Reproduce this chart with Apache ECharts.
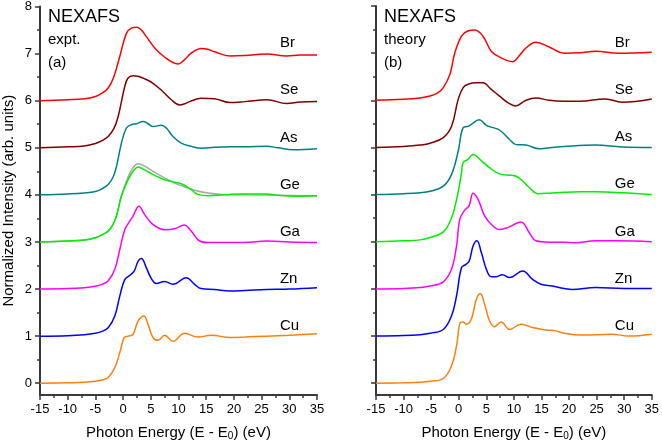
<!DOCTYPE html>
<html>
<head>
<meta charset="utf-8">
<script src="https://cdn.jsdelivr.net/npm/echarts@6/dist/echarts.min.js"></script>
<style>html,body{margin:0;padding:0;background:#fff}#c{width:662px;height:446px}</style>
</head>
<body>
<div id="c"></div>
<script>
// ---------- data (x in eV, y = normalized intensity incl. offset) ----------
const elements = ['Cu', 'Zn', 'Ga', 'Ge', 'As', 'Se', 'Br'];
const offsets = [0, 1, 2, 3, 4, 5, 6];
const colors = ['#ff7f0e', '#0000ff', '#ff00ff', '#00ee00', '#008080', '#800000', '#ff0000'];
const xTicks = [-15, -10, -5, 0, 5, 10, 15, 20, 25, 30, 35];
const yTicksMajor = [0, 1, 2, 3, 4, 5, 6, 7, 8];
const yTicksMinor = [0.5, 1.5, 2.5, 3.5, 4.5, 5.5, 6.5, 7.5];

// experiment (a)
const exptBr = [[-15,6.0],[-10,6.02],[-7,6.04],[-5,6.09],[-3.8,6.16],[-2.7,6.27],[-1.7,6.5],[-0.6,6.94],[0.6,7.43],[1.5,7.54],[2.5,7.56],[3.3,7.5],[4.2,7.36],[6.0,7.08],[7.8,6.9],[9.0,6.81],[9.9,6.78],[11.0,6.86],[12.3,7.01],[14.1,7.11],[15.3,7.09],[16.5,7.04],[19.3,6.95],[22,6.96],[26,6.99],[29.5,6.95],[32,6.97],[35,6.97]];
const exptSe = [[-15,5.0],[-10,5.02],[-7,5.04],[-5,5.09],[-3.8,5.15],[-2.7,5.24],[-1.7,5.4],[-0.9,5.66],[0.3,6.3],[0.9,6.48],[1.8,6.53],[2.7,6.52],[3.6,6.48],[5.4,6.37],[7.2,6.19],[8.7,6.02],[10.2,5.91],[11.0,5.93],[12.0,5.98],[14.1,6.05],[16.5,6.04],[19.3,5.96],[22,5.98],[26,6.02],[29.5,5.94],[32,5.97],[35,5.98]];
const exptAs = [[-15,4.0],[-10,4.02],[-7,4.04],[-5,4.07],[-3.8,4.13],[-2.7,4.22],[-1.8,4.38],[-1.2,4.6],[-0.3,5.1],[0.6,5.42],[1.5,5.49],[2.4,5.51],[3.6,5.56],[4.5,5.51],[5.4,5.45],[6.9,5.48],[7.8,5.42],[9.0,5.24],[10.5,5.1],[12.3,5.03],[14.1,4.99],[16.5,5.01],[19.3,5.02],[22,5.02],[25.9,5.03],[28,5.0],[30.7,4.96],[35,4.98]];
const exptGe = [[-15,3.0],[-10,3.02],[-7,3.04],[-5,3.09],[-3.8,3.15],[-2.7,3.23],[-1.8,3.38],[-1.2,3.55],[-0.3,3.97],[0.9,4.32],[1.8,4.5],[2.7,4.59],[3.9,4.53],[5.4,4.43],[7.5,4.32],[9.3,4.27],[10.8,4.22],[12.3,4.11],[13.5,4.01],[15.3,3.98],[19.3,4.01],[22,4.02],[25.9,4.02],[28,3.99],[31.3,3.97],[35,3.98]];
const exptGeRef = [[-15,3.0],[-10,3.02],[-7,3.04],[-5,3.09],[-3.8,3.15],[-2.7,3.23],[-1.8,3.38],[-1.2,3.55],[-0.3,3.99],[0.9,4.38],[1.8,4.58],[2.7,4.66],[3.9,4.61],[5.4,4.5],[7.5,4.36],[9.3,4.25],[10.8,4.18],[12.9,4.1],[15.3,4.04],[17.8,4.01],[22,4.0],[28,3.99],[35,3.98]];
const exptGa = [[-15,2.0],[-10,2.01],[-7,2.03],[-5,2.06],[-3.8,2.1],[-2.7,2.17],[-1.5,2.42],[-0.6,2.84],[0.3,3.26],[1.2,3.44],[1.8,3.55],[2.85,3.76],[3.9,3.58],[5.4,3.37],[7.5,3.26],[9.3,3.28],[11.0,3.36],[12.3,3.23],[13.8,3.02],[15.3,2.99],[19.3,2.99],[22,2.99],[25.9,3.02],[30,3.0],[35,2.99]];
const exptZn = [[-15,1.0],[-10,1.01],[-7,1.03],[-5,1.06],[-3.8,1.1],[-2.7,1.18],[-1.5,1.43],[-0.6,1.85],[0.3,2.2],[1.2,2.29],[2.0,2.38],[2.7,2.59],[3.3,2.65],[4.2,2.45],[5.1,2.22],[6.0,2.12],[7.5,2.16],[9.0,2.1],[11.4,2.24],[12.9,2.1],[14.1,2.01],[16.5,1.99],[19.3,1.96],[22,1.97],[25.9,1.99],[30,2.0],[35,2.03]];
const exptCu = [[-15,0],[-10,0.01],[-7,0.02],[-5,0.04],[-3.8,0.07],[-2.7,0.12],[-1.5,0.33],[-0.6,0.65],[0.2,0.97],[0.9,1.0],[1.8,1.04],[2.7,1.32],[3.75,1.43],[4.5,1.25],[5.4,0.97],[6.3,0.91],[7.5,1.02],[9.0,0.89],[11.1,1.06],[13.5,0.98],[16.0,1.02],[19.3,0.97],[22,0.98],[25.9,1.0],[30,1.02],[35,1.05]];

// theory (b)
const theoBr = [[-15,6.0],[-10,6.02],[-7,6.05],[-5.2,6.09],[-3.8,6.16],[-2.8,6.27],[-1.6,6.55],[-0.7,7.01],[0.5,7.36],[1.6,7.47],[2.9,7.49],[4.4,7.36],[5.9,7.04],[7.7,6.9],[9.8,6.82],[11.0,6.95],[12.2,7.11],[14.0,7.23],[16.4,7.13],[19.1,7.0],[22,7.01],[24.8,7.04],[29,7.0],[35,7.02]];
const theoSe = [[-15,5.0],[-10,5.02],[-7,5.05],[-5.2,5.09],[-2.8,5.21],[-1.3,5.45],[-0.1,6.02],[0.8,6.27],[1.7,6.34],[3.2,6.37],[4.4,6.37],[5.9,6.23],[7.4,6.09],[8.9,5.95],[10.3,5.88],[12.2,6.0],[14.0,6.05],[16.4,6.0],[19.1,5.98],[22,5.98],[26.6,6.03],[29.6,5.96],[35,6.03]];
const theoAs = [[-15,4.0],[-10,4.02],[-7,4.04],[-5.2,4.07],[-2.8,4.18],[-1.3,4.43],[-0.1,4.92],[0.8,5.42],[1.7,5.45],[2.3,5.49],[3.7,5.59],[5.0,5.47],[6.2,5.42],[7.4,5.37],[9.2,5.17],[10.4,5.06],[12.2,5.05],[14.6,4.97],[16,4.99],[19.1,5.02],[24.8,5.05],[29.6,5.01],[35,5.0]];
const theoGe = [[-15,3.0],[-10,3.02],[-7,3.04],[-5.2,3.09],[-2.8,3.21],[-1.3,3.51],[-0.2,4.0],[0.5,4.46],[0.8,4.68],[1.7,4.75],[2.6,4.85],[4.1,4.72],[5.6,4.57],[7.4,4.44],[9.5,4.41],[10.4,4.39],[11.3,4.32],[12.8,4.15],[14.3,4.02],[16.4,4.03],[19.1,4.05],[22,4.06],[24.8,4.06],[29.6,4.04],[35,4.0]];
const theoGa = [[-15,2.0],[-10,2.01],[-7,2.03],[-5.2,2.06],[-2.8,2.15],[-1.3,2.42],[-0.4,2.91],[0.2,3.48],[1.1,3.67],[1.9,3.77],[2.6,4.03],[3.5,3.9],[4.7,3.55],[5.9,3.37],[7.4,3.26],[8.9,3.3],[11.3,3.42],[12.8,3.19],[14.0,3.02],[16.4,2.99],[19.1,2.99],[21.2,2.98],[24.8,3.02],[29,3.02],[35,3.0]];
const theoZn = [[-15,1.0],[-10,1.01],[-7,1.03],[-5.2,1.06],[-2.8,1.14],[-1.3,1.43],[-0.4,1.85],[0.5,2.45],[1.3,2.52],[1.9,2.59],[2.6,2.91],[3.3,3.02],[4.1,2.77],[5.0,2.42],[5.9,2.26],[6.8,2.26],[7.9,2.3],[9.2,2.24],[11.6,2.38],[13.4,2.2],[14.9,2.1],[17.0,2.06],[19.1,2.01],[20.6,1.99],[24.8,2.03],[30,2.01],[35,2.01]];
const theoCu = [[-15,0],[-10,0.01],[-7,0.02],[-5.2,0.04],[-2.8,0.10],[-1.3,0.37],[-0.4,0.79],[0.3,1.29],[0.8,1.3],[1.4,1.25],[2.3,1.36],[3.2,1.78],[3.9,1.9],[4.7,1.67],[5.6,1.32],[6.5,1.2],[7.7,1.3],[9.2,1.14],[11.3,1.25],[13.4,1.18],[15.8,1.13],[17.6,1.11],[19.1,1.06],[22.4,1.02],[27.8,1.04],[30.8,1.0],[35,1.04]];

const exptCurves = [exptCu, exptZn, exptGa, exptGe, exptAs, exptSe, exptBr];
const theoCurves = [theoCu, theoZn, theoGa, theoGe, theoAs, theoSe, theoBr];
const panelTags = [['NEXAFS', 'expt.', '(a)'], ['NEXAFS', 'theory', '(b)']];
const labelX = 28.3;
const labelLift = 1.22;

// ---------- chart ----------
const FONT = "'Liberation Sans', Arial, sans-serif";
const AX = '#3a3a3a';
const TXT = '#000';
const chart = echarts.init(document.getElementById('c'), null, {renderer: 'canvas'});

const grids = [
  {left: 40, top: 6, width: 277, height: 390},
  {left: 376, top: 6, width: 277, height: 390}
];

function xAx(i) {
  return {
    type: 'value', gridIndex: i, min: -15, max: 35, interval: 5,
    axisLine: {show: true, onZero: false, lineStyle: {color: AX, width: 2}},
    axisTick: {show: true, length: 5, lineStyle: {color: AX, width: 1.5}},
    minorTick: {show: true, splitNumber: 2, length: 3, lineStyle: {color: AX, width: 1.5}},
    splitLine: {show: false},
    axisLabel: {fontSize: 13, color: TXT, fontFamily: FONT, margin: 8},
    name: 'Photon Energy (E - E{s|0}) (eV)', nameLocation: 'middle', nameGap: 29,
    nameTextStyle: {fontSize: 15, color: TXT, fontFamily: FONT,
      rich: {s: {fontSize: 10, fontFamily: FONT, color: TXT, verticalAlign: 'bottom', padding: [7, 0, 0, 0]}}}
  };
}
function yMajor(i, withLabels) {
  return {
    type: 'value', gridIndex: i, min: -0.25, max: 8, position: 'left',
    axisLine: {show: true, onZero: false, lineStyle: {color: AX, width: 2}},
    axisTick: {show: true, length: 5, customValues: yTicksMajor, lineStyle: {color: AX, width: 1.5}},
    splitLine: {show: false},
    axisLabel: {show: withLabels, customValues: yTicksMajor, fontSize: 13, color: TXT, fontFamily: FONT, margin: 8},
    name: withLabels ? 'Normalized Intensity (arb. units)' : '', nameLocation: 'middle', nameGap: 24,
    nameTextStyle: {fontSize: 15, color: TXT, fontFamily: FONT}
  };
}
function yMinor(i) {
  return {
    type: 'value', gridIndex: i, min: -0.25, max: 8, position: 'left',
    axisLine: {show: false, onZero: false},
    axisTick: {show: true, length: 3, customValues: yTicksMinor, lineStyle: {color: AX, width: 1.5}},
    splitLine: {show: false},
    axisLabel: {show: false}
  };
}

const series = [];
function addPanel(p, curves, yIdx) {
  curves.forEach((d, k) => {
    series.push({
      type: 'line', xAxisIndex: p, yAxisIndex: yIdx, data: d, showSymbol: false, symbol: 'none',
      smooth: 0.4, lineStyle: {color: colors[k], width: 1.5}, z: 3, silent: true
    });
  });
  series.push({
    type: 'scatter', xAxisIndex: p, yAxisIndex: yIdx, symbolSize: 0, silent: true,
    itemStyle: {opacity: 1},
    data: elements.map((e, k) => [labelX, offsets[k] + labelLift, e]),
    label: {show: true, position: 'right', distance: 0, formatter: q => q.value[2],
      fontSize: 15, color: TXT, opacity: 1, textBorderWidth: 0, fontFamily: FONT}
  });
}
// gray reference curve for Ge (expt), drawn beneath
series.push({
  type: 'line', xAxisIndex: 0, yAxisIndex: 0, data: exptGeRef, showSymbol: false, symbol: 'none',
  smooth: 0.4, lineStyle: {color: '#a8a8a8', width: 1.5}, z: 2, silent: true
});
addPanel(0, exptCurves, 0);
addPanel(1, theoCurves, 2);

const graphics = [];
panelTags.forEach((t, p) => {
  const x0 = p === 0 ? 48 : 384;
  graphics.push({type: 'text', x: x0, y: 17, style: {text: t[0], font: '18px ' + FONT, fill: TXT, verticalAlign: 'middle'}});
  graphics.push({type: 'text', x: x0, y: 39.5, style: {text: t[1], font: '15px ' + FONT, fill: TXT, verticalAlign: 'middle'}});
  graphics.push({type: 'text', x: x0, y: 62.5, style: {text: t[2], font: '15px ' + FONT, fill: TXT, verticalAlign: 'middle'}});
});

chart.setOption({
  animation: false,
  backgroundColor: '#fff',
  grid: grids,
  xAxis: [xAx(0), xAx(1)],
  yAxis: [yMajor(0, true), yMinor(0), yMajor(1, false), yMinor(1)],
  series: series,
  graphic: graphics
});
</script>
</body>
</html>
